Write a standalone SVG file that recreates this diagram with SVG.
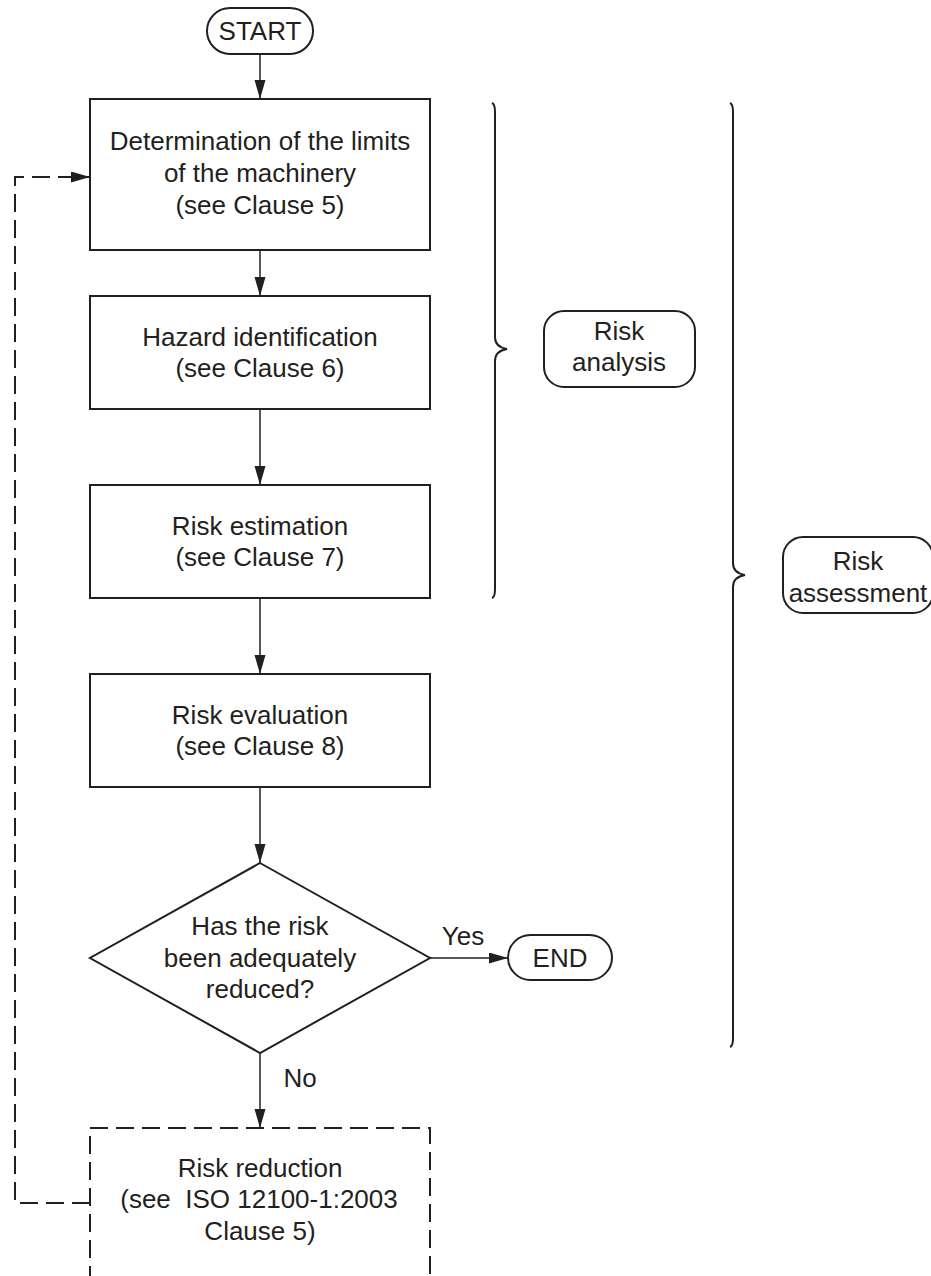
<svg xmlns="http://www.w3.org/2000/svg" width="931" height="1276" viewBox="0 0 931 1276">
<defs>
<style>
.t{font-family:"Liberation Sans",Arial,sans-serif;font-size:26px;fill:#231f20;text-anchor:middle}
.box{fill:none;stroke:#231f20;stroke-width:2}
.dbox{fill:none;stroke:#231f20;stroke-width:2;stroke-dasharray:18 8}
.c{fill:none;stroke:#231f20;stroke-width:1.5}
.cd{fill:none;stroke:#231f20;stroke-width:2;stroke-dasharray:18 8}
.br{fill:none;stroke:#231f20;stroke-width:2}
</style>
<marker id="ah" markerUnits="userSpaceOnUse" markerWidth="20" markerHeight="12" refX="19" refY="5.5" orient="auto">
<path d="M0,0 L19,5.5 L0,11 Z" fill="#231f20"/>
</marker>
</defs>
<rect width="931" height="1276" fill="#fff"/>

<g id="connectors">
<path class="c" d="M260,54 V99" marker-end="url(#ah)"/>
<path class="c" d="M260,250 V296" marker-end="url(#ah)"/>
<path class="c" d="M260,409 V485" marker-end="url(#ah)"/>
<path class="c" d="M260,598 V674" marker-end="url(#ah)"/>
<path class="c" d="M260,787 V863" marker-end="url(#ah)"/>
<path class="c" d="M430,958 H508" marker-end="url(#ah)"/>
<path class="c" d="M260,1053 V1128" marker-end="url(#ah)"/>
<path class="cd" d="M90,1203 H15 V177 H90" marker-end="url(#ah)"/>
<text class="t" x="463" y="945">Yes</text>
<text class="t" x="300" y="1087">No</text>
</g>

<g id="start">
<rect class="box" x="207" y="8" width="106" height="46" rx="23"/>
<text class="t" x="260" y="40">START</text>
</g>

<g id="limits">
<rect class="box" x="90" y="99" width="340" height="151"/>
<text class="t" x="260" y="150">Determination of the limits</text>
<text class="t" x="260" y="182">of the machinery</text>
<text class="t" x="260" y="214">(see Clause 5)</text>
</g>

<g id="hazard">
<rect class="box" x="90" y="296" width="340" height="113"/>
<text class="t" x="260" y="346">Hazard identification</text>
<text class="t" x="260" y="377">(see Clause 6)</text>
</g>

<g id="estimation">
<rect class="box" x="90" y="485" width="340" height="113"/>
<text class="t" x="260" y="535">Risk estimation</text>
<text class="t" x="260" y="566">(see Clause 7)</text>
</g>

<g id="evaluation">
<rect class="box" x="90" y="674" width="340" height="113"/>
<text class="t" x="260" y="724">Risk evaluation</text>
<text class="t" x="260" y="755">(see Clause 8)</text>
</g>

<g id="decision">
<path class="box" d="M260,863 L430,958 L260,1053 L90,958 Z"/>
<text class="t" x="260" y="935">Has the risk</text>
<text class="t" x="260" y="967">been adequately</text>
<text class="t" x="260" y="998">reduced?</text>
</g>

<g id="end">
<rect class="box" x="508" y="935" width="104" height="45" rx="22.5"/>
<text class="t" x="560" y="967">END</text>
</g>

<g id="reduction">
<rect class="dbox" x="90" y="1128" width="340" height="180"/>
<text class="t" x="260" y="1177">Risk reduction</text>
<text class="t" x="259" y="1208" xml:space="preserve">(see  ISO 12100-1:2003</text>
<text class="t" x="260" y="1240">Clause 5)</text>
</g>

<g id="brace-analysis">
<path class="br" d="M492,103 Q495,104 495,112 L495,337 Q495,347 507,349 Q495,351 495,361 L495,589 Q495,597 492,598"/>
</g>

<g id="risk-analysis">
<rect class="box" x="544" y="311" width="151" height="76" rx="20"/>
<text class="t" x="619" y="340">Risk</text>
<text class="t" x="619" y="371">analysis</text>
</g>

<g id="brace-assessment">
<path class="br" d="M730,103 Q733,104 733,112 L733,563 Q733,573 745,575 Q733,577 733,587 L733,1038 Q733,1046 730,1047"/>
</g>

<g id="risk-assessment">
<rect class="box" x="783" y="537" width="150" height="76" rx="20"/>
<text class="t" x="858" y="570">Risk</text>
<text class="t" x="858" y="602">assessment</text>
</g>
</svg>
